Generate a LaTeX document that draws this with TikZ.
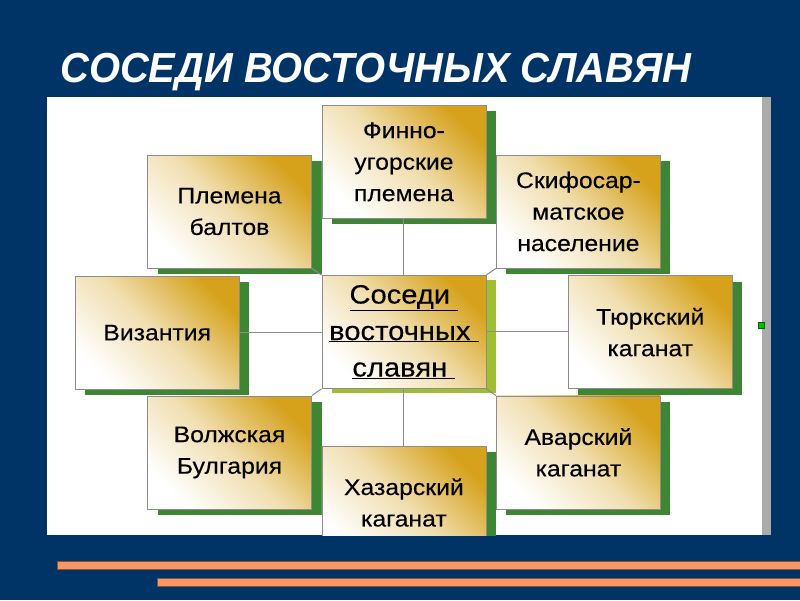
\documentclass[tikz,border=0pt]{standalone}
\usepackage{fontspec}
\setmainfont{Liberation Sans}
\newfontfamily\boxfont{Liberation Sans}[FakeStretch=1.1,FakeBold=0.25]
\newfontfamily\titlefont{Liberation Sans}[FakeStretch=0.95]
\usetikzlibrary{shadows}

\definecolor{slidebg}{RGB}{0,51,102}
\definecolor{boxgold}{RGB}{214,162,28}
\definecolor{shadegreen}{RGB}{62,134,52}
\definecolor{shadelime}{RGB}{160,190,50}
\definecolor{linegray}{RGB}{140,140,140}
\definecolor{stripe}{RGB}{250,150,100}

\tikzset{
  slab/.style={draw=linegray, line width=0.8pt, top color=boxgold, bottom color=white,
    middle color=boxgold!35!white, shading angle=-45, minimum width=164pt,
    minimum height=113pt, inner sep=0pt, align=center, text=black},
  neighbour/.style={slab, font=\boxfont\fontsize{22.5}{31.5}\selectfont,
    drop shadow={shadow xshift=10pt, shadow yshift=-6pt, fill=shadegreen, opacity=1}},
  hub/.style={slab, font=\boxfont\fontsize{26.5}{36.5}\selectfont,
    drop shadow={shadow xshift=10pt, shadow yshift=-5pt, fill=shadelime, opacity=1}},
  link/.style={draw=linegray, line width=1pt},
}

\begin{document}
\begin{tikzpicture}[x=1pt,y=-1pt]
\fill[slidebg] (0,0) rectangle (800,600);
\useasboundingbox (0,0) rectangle (800,600);

\node[anchor=base west, inner sep=0pt, text=white,
  font=\titlefont\fontsize{42}{42}\selectfont\bfseries\itshape] (title) at (60,82) {СОСЕДИ ВОСТОЧНЫХ СЛАВЯН};

% panel
\fill[white] (47,97) rectangle (762,535);
\fill[black!33] (762,97) rectangle (771,535);

\begin{scope}
\clip (47,97) rectangle (762,535);
\node[neighbour] (balt) at (229.5,211.5) {Племена\\балтов};
\node[neighbour] (finn) at (403.9,161.9) {Финно-\\угорские\\племена};
\node[neighbour] (skif) at (578.4,211.5) {Скифосар-\\матское\\население};
\node[neighbour] (byz) at (157.2,332.7) {Византия};
\node[hub] (hub) at (403.9,331.9) {\underline{Соседи }\\\underline{восточных }\\\underline{славян }};
\node[neighbour] (turk) at (650.2,332.2) {Тюркский\\каганат};
\node[neighbour] (volg) at (229.5,452.5) {Волжская\\Булгария};
\node[neighbour] (khaz) at (403.9,502.5) {Хазарский\\каганат};
\node[neighbour] (avar) at (578.4,452.4) {Аварский\\каганат};

\path[link] (finn) edge (hub);
\path[link] (hub) edge (khaz);
\path[link] (byz.east) edge (byz.east -| hub.west);
\path[link] (hub.east) edge (hub.east -| turk.west);
\path[link] (balt.south east) edge (hub.north west);
\path[link] (hub.north east) edge (skif.south west);
\path[link] (volg.north east) edge (hub.south west);
\path[link] (hub.south east) edge (avar.north west);
\end{scope}

\filldraw[fill=green!75!black, draw=green!40!black, line width=0.5pt] (758,322) rectangle (764,328);

% stripes
\filldraw[fill=stripe, draw=stripe!55!black, line width=0.6pt] (57,561.5) rectangle (800,569.5);
\filldraw[fill=stripe, draw=stripe!55!black, line width=0.6pt] (157,578) rectangle (800,586);
\end{tikzpicture}
\end{document}
